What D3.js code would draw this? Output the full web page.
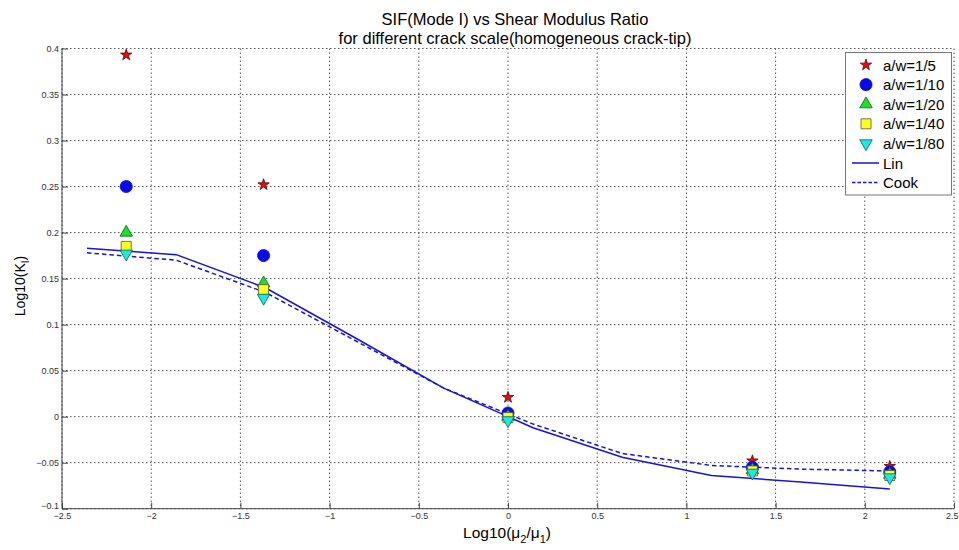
<!DOCTYPE html>
<html><head><meta charset="utf-8">
<script src="https://cdn.jsdelivr.net/npm/d3@7"></script>
<style>body{margin:0;background:#fff}svg{display:block}text{font-family:Arial,"Liberation Sans",sans-serif}</style>
</head><body><svg id="c" width="959" height="550"></svg>
<script>
const xPts = [-2.14, -1.37, 0, 1.37, 2.14];
const s15  = [0.393, 0.252, 0.021, -0.048, -0.054];
const s110 = [0.250, 0.175, 0.004, -0.055, -0.060];
const s120 = [0.200, 0.145, 0.000, -0.058, -0.063];
const s140 = [0.185, 0.138, -0.001, -0.059, -0.064];
const s180 = [0.177, 0.129, -0.004, -0.061, -0.066];
const xLine = [-2.36, -1.86, -1.36, -0.86, -0.36, 0.14, 0.64, 1.14, 1.64, 2.14];
const lin  = [0.183, 0.176, 0.140, 0.086, 0.031, -0.012, -0.044, -0.064, -0.071, -0.0786];
const cook = [0.178, 0.170, 0.135, 0.083, 0.031, -0.008, -0.040, -0.053, -0.057, -0.059];
const xTicks = [-2.5,-2,-1.5,-1,-0.5,0,0.5,1,1.5,2,2.5];
const yTicks = [-0.1,-0.05,0,0.05,0.1,0.15,0.2,0.25,0.3,0.35,0.4];
const seriesNames = ["a/w=1/5","a/w=1/10","a/w=1/20","a/w=1/40","a/w=1/80"];

const svg = d3.select("#c");
const L=62,R=954,T=48.5,B=508.7;
const x = d3.scaleLinear().domain([-2.5,2.5]).range([L,R]);
const y = d3.scaleLinear().domain([-0.1,0.4]).range([B,T]);

// grid
const g = svg.append("g");
g.selectAll(".gx").data(xTicks).join("line").attr("x1",d=>x(d)).attr("x2",d=>x(d)).attr("y1",T).attr("y2",B)
 .attr("stroke","#555").attr("stroke-width",1).attr("stroke-dasharray","1.5,2.5");
g.selectAll(".gy").data(yTicks).join("line").attr("y1",d=>y(d)).attr("y2",d=>y(d)).attr("x1",L).attr("x2",R)
 .attr("stroke","#555").attr("stroke-width",1).attr("stroke-dasharray","1.5,2.5");

// axes
const xa = svg.append("g").attr("transform",`translate(0,${B})`).call(d3.axisBottom(x).tickValues(xTicks).tickSize(-6).tickPadding(4).tickFormat(d=>d3.format("")(d)));
const ya = svg.append("g").attr("transform",`translate(${L},0)`).call(d3.axisLeft(y).tickValues(yTicks).tickSize(-6).tickPadding(3).tickFormat(d=>d3.format("")(+d.toFixed(2))));
[xa,ya].forEach(a=>{a.select(".domain").attr("stroke","#444").attr("stroke-width",1);
 a.selectAll(".tick line").attr("stroke","#444");
 a.selectAll("text").attr("font-size",9).attr("fill","#333").attr("font-family","Arial");});
ya.select(".domain").attr("d",`M0,${T}V${B}`);
xa.select(".domain").attr("d",`M${L},0H${R}`);
xa.selectAll(".tick text").filter(d=>d===2.5).attr("text-anchor","end").attr("x",4);
ya.selectAll(".tick text").filter(d=>d===-0.1).attr("dy","-0.05em");

// lines
const line = d3.line().x((d,i)=>x(xLine[i])).y(d=>y(d));
svg.append("path").attr("d",line(lin)).attr("fill","none").attr("stroke","#1515d5").attr("stroke-width",1.5);
svg.append("path").attr("d",line(cook)).attr("fill","none").attr("stroke","#1515d5").attr("stroke-width",1.5).attr("stroke-dasharray","4.5,3");

// markers
const sym = {
 star: d3.symbol().type(d3.symbolStar).size(40),
 circle: d3.symbol().type(d3.symbolCircle).size(115),
 tri: d3.symbol().type(d3.symbolTriangle).size(68),
 sq: d3.symbol().type(d3.symbolSquare).size(100),
 tdown: d3.symbol().type(d3.symbolTriangle).size(68)
};
const specs = [
 {vals:s15, p:sym.star(), fill:"#e01010", stroke:"#600", rot:0},
 {vals:s110,p:sym.circle(),fill:"#0a0ae6", stroke:"#0a0ae6", rot:0},
 {vals:s120,p:sym.tri(),  fill:"#22dd22", stroke:"#063", rot:0},
 {vals:s140,p:sym.sq(),   fill:"#ffff22", stroke:"#553", rot:0},
 {vals:s180,p:sym.tdown(),fill:"#22e6e6", stroke:"#064", rot:180}
];
specs.forEach(s=>{
 svg.append("g").selectAll("path").data(s.vals).join("path").attr("d",s.p)
  .attr("transform",(d,i)=>`translate(${x(xPts[i])},${y(d)}) rotate(${s.rot})`)
  .attr("fill",s.fill).attr("stroke",s.stroke).attr("stroke-width",0.8);
});

// legend
const lg = svg.append("g");
lg.append("rect").attr("x",845.5).attr("y",52.5).attr("width",106).attr("height",142.5).attr("fill","#fff").attr("stroke","#777").attr("stroke-width",1);
const ly0=65, ldy=19.6;
specs.forEach((s,i)=>{
 lg.append("path").attr("d",s.p).attr("transform",`translate(866,${ly0+i*ldy}) rotate(${s.rot})`)
  .attr("fill",s.fill).attr("stroke",s.stroke).attr("stroke-width",0.8);
 lg.append("text").attr("x",883).attr("y",ly0+i*ldy+5.5).attr("font-size",15).text(seriesNames[i]);
});
["Lin","Cook"].forEach((n,j)=>{
 const yy=ly0+(5+j)*ldy;
 lg.append("line").attr("x1",852).attr("x2",879).attr("y1",yy).attr("y2",yy).attr("stroke","#1515d5").attr("stroke-width",1.5).attr("stroke-dasharray",j?"3.5,2":null);
 lg.append("text").attr("x",883).attr("y",yy+5.5).attr("font-size",15).text(n);
});

// titles
svg.append("text").attr("x",515).attr("y",25).attr("text-anchor","middle").attr("font-size",16.5).text("SIF(Mode I) vs Shear Modulus Ratio");
svg.append("text").attr("x",515).attr("y",44).attr("text-anchor","middle").attr("font-size",16.5).text("for different crack scale(homogeneous crack-tip)");
const xl = svg.append("text").attr("x",507).attr("y",538).attr("text-anchor","middle").attr("font-size",15.5);
xl.append("tspan").text("Log10(μ");
xl.append("tspan").attr("font-size",11).attr("dy",5).text("2");
xl.append("tspan").attr("dy",-5).text("/μ");
xl.append("tspan").attr("font-size",11).attr("dy",5).text("1");
xl.append("tspan").attr("dy",-5).text(")");
const yl = svg.append("text").attr("transform","translate(25,286) rotate(-90)").attr("text-anchor","middle").attr("font-size",14);
yl.append("tspan").text("Log10(K");
yl.append("tspan").attr("font-size",10).attr("dy",4).text("I");
yl.append("tspan").attr("dy",-4).text(")");
</script></body></html>
